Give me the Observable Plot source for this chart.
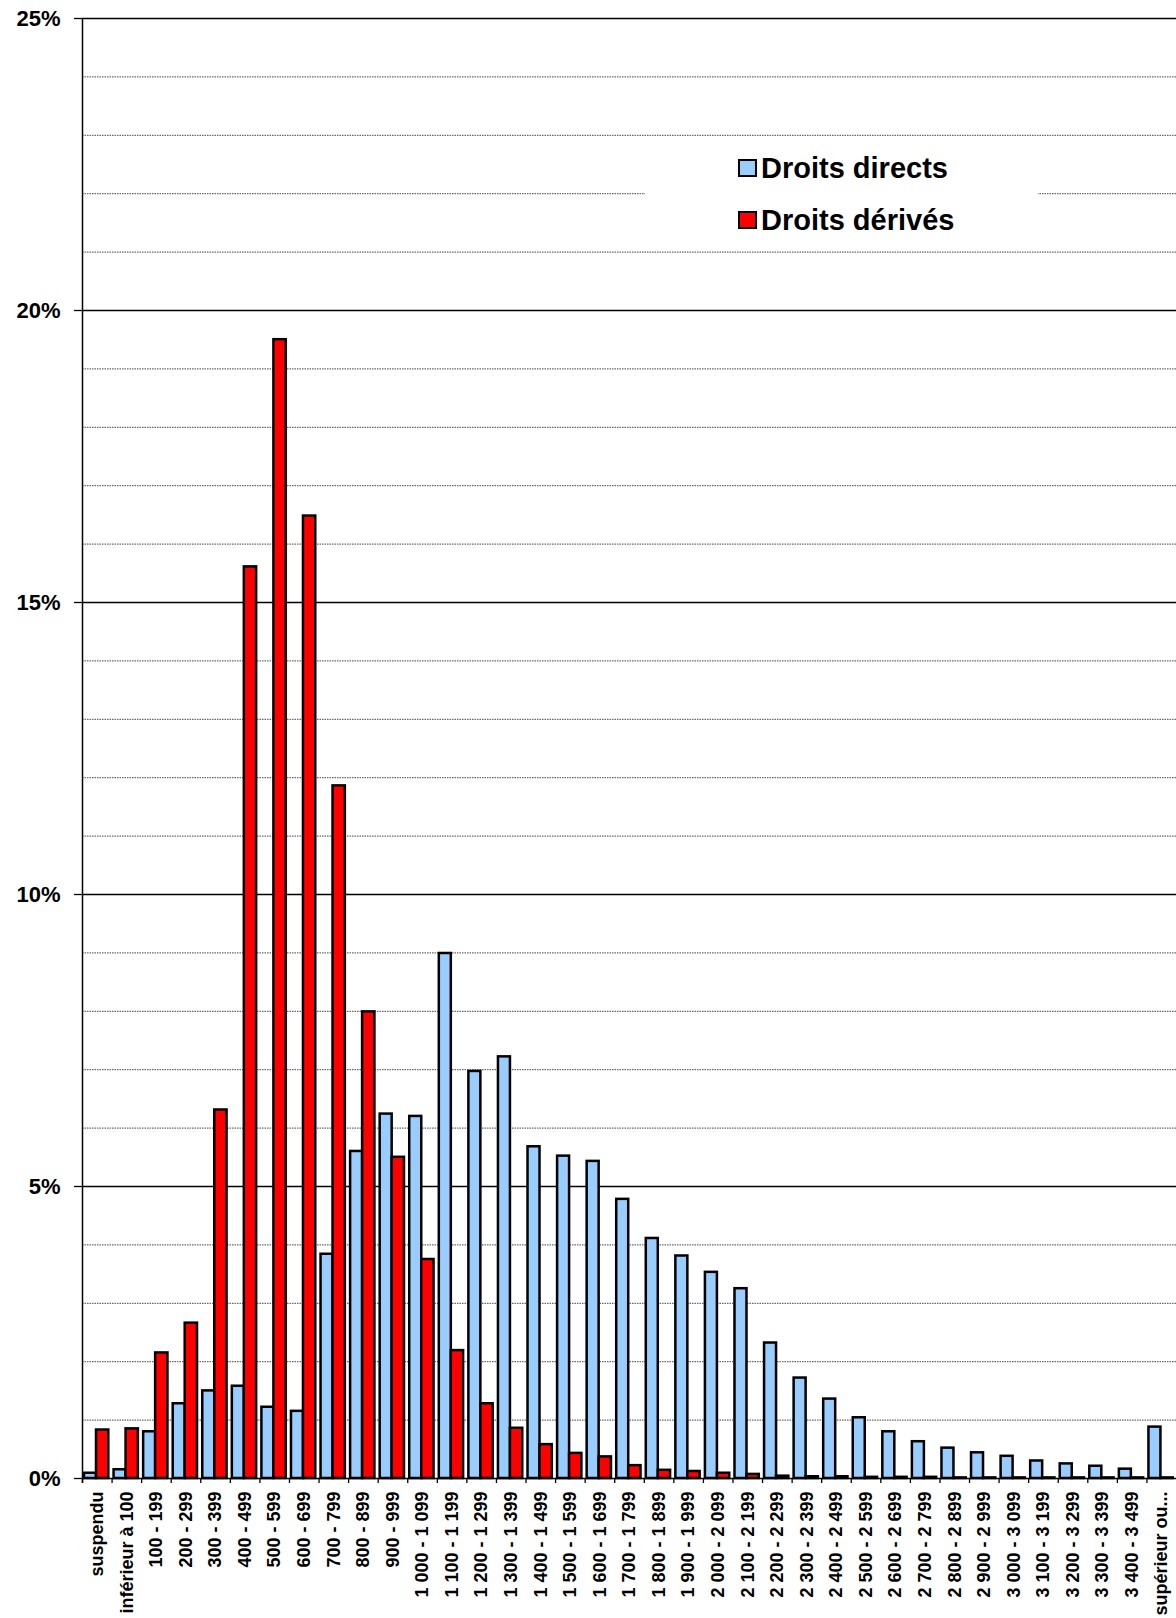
<!DOCTYPE html>
<html><head><meta charset="utf-8">
<script src="https://cdn.jsdelivr.net/npm/d3@7"></script>
<script src="https://cdn.jsdelivr.net/npm/@observablehq/plot@0.6"></script>
<style>
html,body{margin:0;padding:0;background:#fff;}
#wrap{position:relative;width:1176px;height:1618px;overflow:hidden;font-family:"Liberation Sans",Arial,sans-serif;}
#legend{position:absolute;left:645px;top:138px;width:393px;height:112px;background:#fff;}
.item{position:absolute;left:93px;height:34px;display:flex;align-items:center;font-weight:bold;font-size:29px;color:#000;white-space:nowrap;}
.sw{width:15px;height:14px;border:2px solid #000;margin-right:4px;box-sizing:content-box;}
</style></head><body>
<div id="wrap"><div id="chart"></div><div id="legend"></div></div>
<script>
const categories = ["suspendu","inférieur à 100","100 - 199","200 - 299","300 - 399","400 - 499","500 - 599","600 - 699","700 - 799","800 - 899","900 - 999","1 000 - 1 099","1 100 - 1 199","1 200 - 1 299","1 300 - 1 399","1 400 - 1 499","1 500 - 1 599","1 600 - 1 699","1 700 - 1 799","1 800 - 1 899","1 900 - 1 999","2 000 - 2 099","2 100 - 2 199","2 200 - 2 299","2 300 - 2 399","2 400 - 2 499","2 500 - 2 599","2 600 - 2 699","2 700 - 2 799","2 800 - 2 899","2 900 - 2 999","3 000 - 3 099","3 100 - 3 199","3 200 - 3 299","3 300 - 3 399","3 400 - 3 499","supérieur ou..."];
const directs = [0.09,0.15,0.80,1.28,1.50,1.58,1.22,1.15,3.84,5.60,6.24,6.20,8.99,6.97,7.22,5.68,5.52,5.43,4.78,4.11,3.81,3.53,3.25,2.32,1.72,1.36,1.04,0.80,0.63,0.52,0.44,0.38,0.30,0.25,0.21,0.16,0.88];
const derives = [0.83,0.85,2.15,2.66,6.31,15.61,19.50,16.48,11.86,7.99,5.50,3.75,2.19,1.28,0.86,0.58,0.43,0.37,0.22,0.14,0.12,0.09,0.07,0.04,0.03,0.03,0.02,0.02,0.02,0.01,0.01,0.01,0.01,0.01,0.01,0.01,0.01];
const seriesNames = ["Droits directs","Droits dérivés"];
const majorTicks = [0,5,10,15,20,25];
const minorTicks = [1,2,3,4,6,7,8,9,11,12,13,14,16,17,18,19,21,22,23,24];

const colors = ["#99CCFF","#FF0000"];
const W = 1176, H = 1618, ML = 82, MR = 0, MT = 18, MB = 140;
const bw = (W - ML - MR) / categories.length;
const data = categories.map((c, i) => ({cat: c, direct: directs[i], derive: derives[i]}));

const chart = Plot.plot({
  width: W, height: H,
  marginLeft: ML, marginRight: MR, marginTop: MT, marginBottom: MB,
  style: {fontFamily: '"Liberation Sans", Arial, sans-serif', background: "#fff", color: "#000", overflow: "visible"},
  x: {domain: categories, padding: 0, round: false, axis: null},
  y: {domain: [0, 25], axis: null},
  marks: [
    Plot.ruleY(minorTicks, {stroke: "#444", strokeWidth: 1, strokeDasharray: "1.5,1"}),
    Plot.ruleY(majorTicks.filter(d => d > 0), {stroke: "#000", strokeWidth: 1.3}),
    Plot.barY(data, {x: "cat", y: "direct", fill: colors[0], stroke: "#000", strokeWidth: 2.5, insetLeft: 2, insetRight: bw - 14}),
    Plot.barY(data, {x: "cat", y: "derive", fill: colors[1], stroke: "#000", strokeWidth: 2.5, insetLeft: 14, insetRight: bw - 26.3}),
    Plot.ruleY([0], {stroke: "#000", strokeWidth: 1.5}),
    Plot.ruleX(categories, {x: d => d, y1: 0, y2: 0, insetBottom: -5, dx: -bw / 2, stroke: "#000", strokeWidth: 1.3}),
    Plot.ruleX([categories[0]], {x: d => d, y1: 25, y2: 0, insetBottom: -5, dx: -bw / 2, stroke: "#000", strokeWidth: 1.5}),
    Plot.axisY(majorTicks, {tickSize: 8, tickPadding: 14, tickFormat: d => d + "%", fontSize: 22, fontWeight: "bold", label: null, strokeWidth: 1.3}),
    Plot.axisX({tickSize: 0, tickPadding: 13, tickRotate: -90, fontSize: 18, fontWeight: "bold", label: null})
  ]
});
document.getElementById("chart").appendChild(chart);

const legend = document.getElementById("legend");
seriesNames.forEach((name, i) => {
  const item = document.createElement("div");
  item.className = "item";
  item.style.top = (13 + i * 52) + "px";
  const sw = document.createElement("span");
  sw.className = "sw";
  sw.style.background = colors[i];
  const t = document.createElement("span");
  t.textContent = name;
  item.appendChild(sw); item.appendChild(t);
  legend.appendChild(item);
});
</script>
</body></html>
